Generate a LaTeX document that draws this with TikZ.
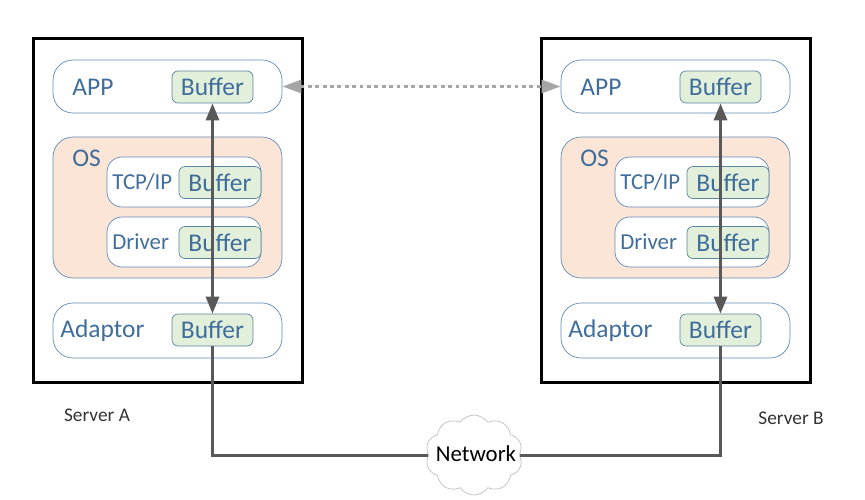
\documentclass[tikz,border=0pt]{standalone}
\usepackage{fontspec}
\setmainfont{Carlito}
\usetikzlibrary{arrows.meta,shapes.symbols}
\definecolor{labelblue}{RGB}{64,110,156}
\definecolor{edgeblue}{RGB}{98,138,182}
\definecolor{bufedge}{RGB}{88,134,160}
\definecolor{bufgreen}{RGB}{226,239,218}
\definecolor{osfill}{RGB}{251,229,214}
\definecolor{flowgray}{RGB}{89,89,89}
\definecolor{dotgray}{RGB}{166,166,166}
\begin{document}
\begin{tikzpicture}[x=0.02cm,y=-0.02cm]
	    \tikzset{
	      server/.style={draw=black,line width=0.06cm,fill=white,minimum width=5.4cm,minimum height=6.9cm},
	      layer/.style={draw=edgeblue,fill=white,rounded corners=0.4cm,minimum width=4.58cm},
	      sublayer/.style={draw=edgeblue,fill=white,rounded corners=0.3cm,minimum width=3.08cm,minimum height=1cm},
	      buffer/.style={draw=bufedge,fill=bufgreen,rounded corners=0.12cm,minimum width=1.62cm,minimum height=0.64cm,inner sep=0pt,text=labelblue,font=\fontsize{14.5}{17}\selectfont},
	      layertext/.style={anchor=west,inner sep=0pt,text=labelblue,font=\fontsize{14.5}{17}\selectfont},
	      subtext/.style={anchor=west,inner sep=0pt,text=labelblue,font=\fontsize{13}{16}\selectfont},
	      flow/.style={draw=flowgray,line width=0.06cm},
	      netcloud/.style={cloud,cloud puffs=10,cloud puff arc=110,draw=black!25,fill=white,minimum width=1.94cm,minimum height=1.6cm,inner sep=0pt}
	    }
	    \useasboundingbox (0,0) rectangle (865,500);
	    \foreach \s/\dx/\lx/\ly in {A/0/97/415,B/508/791/418} {
	      \node[server] (srv\s) at (168+\dx,210.5) {};
	      \node[layer,minimum height=1.06cm] (app\s) at (167.5+\dx,86.5) {};
	      \node[layertext] (apptext\s) at (72+\dx,87) {APP};
	      \node[buffer,minimum width=1.62cm] (appbuf\s) at (212.5+\dx,87) {Buffer};
	      \node[layer,fill=osfill,minimum height=2.82cm] (os\s) at (167.5+\dx,207.5) {};
	      \node[layertext] (ostext\s) at (72+\dx,158) {OS};
	      \node[sublayer] (tcp\s) at (184+\dx,182) {};
	      \node[subtext] (tcptext\s) at (112+\dx,182) {TCP/IP};
	      \node[buffer,minimum width=1.64cm] (tcpbuf\s) at (220+\dx,182.5) {Buffer};
	      \node[sublayer] (drv\s) at (184+\dx,242) {};
	      \node[subtext] (drvtext\s) at (112+\dx,242) {Driver};
	      \node[buffer,minimum width=1.64cm] (drvbuf\s) at (220+\dx,242.5) {Buffer};
	      \node[layer,minimum height=1.1cm] (adp\s) at (167.5+\dx,330.5) {};
	      \node[layertext] (adptext\s) at (60+\dx,331) {Adaptor};
	      \node[buffer] (adpbuf\s) at (212.5+\dx,330) {Buffer};
	      \draw[flow,{Triangle[length=0.34cm,width=0.26cm]}-{Triangle[length=0.34cm,width=0.26cm]}] (appbuf\s.south) -- (adpbuf\s.north);
	      \node[text=black!80,font=\fontsize{11}{13}\selectfont] (name\s) at (\lx,\ly) {Server \s};
	    }
	    \node[netcloud] (net) at (474,455) {};
	    \draw[flow] (adpbufA.south) |- (net.west);
	    \draw[flow] (adpbufB.south) |- (net.east);
	    \node[font=\fontsize{13}{16}\selectfont,inner sep=0pt] (nettext) at (476,454) {Network};
	    \draw[draw=dotgray,line width=0.06cm,dash pattern=on 2.2pt off 2pt,{Triangle[length=0.38cm,width=0.26cm]}-{Triangle[length=0.38cm,width=0.26cm]}] (appA.east) -- (appB.west);
	    \end{tikzpicture}
\end{document}
